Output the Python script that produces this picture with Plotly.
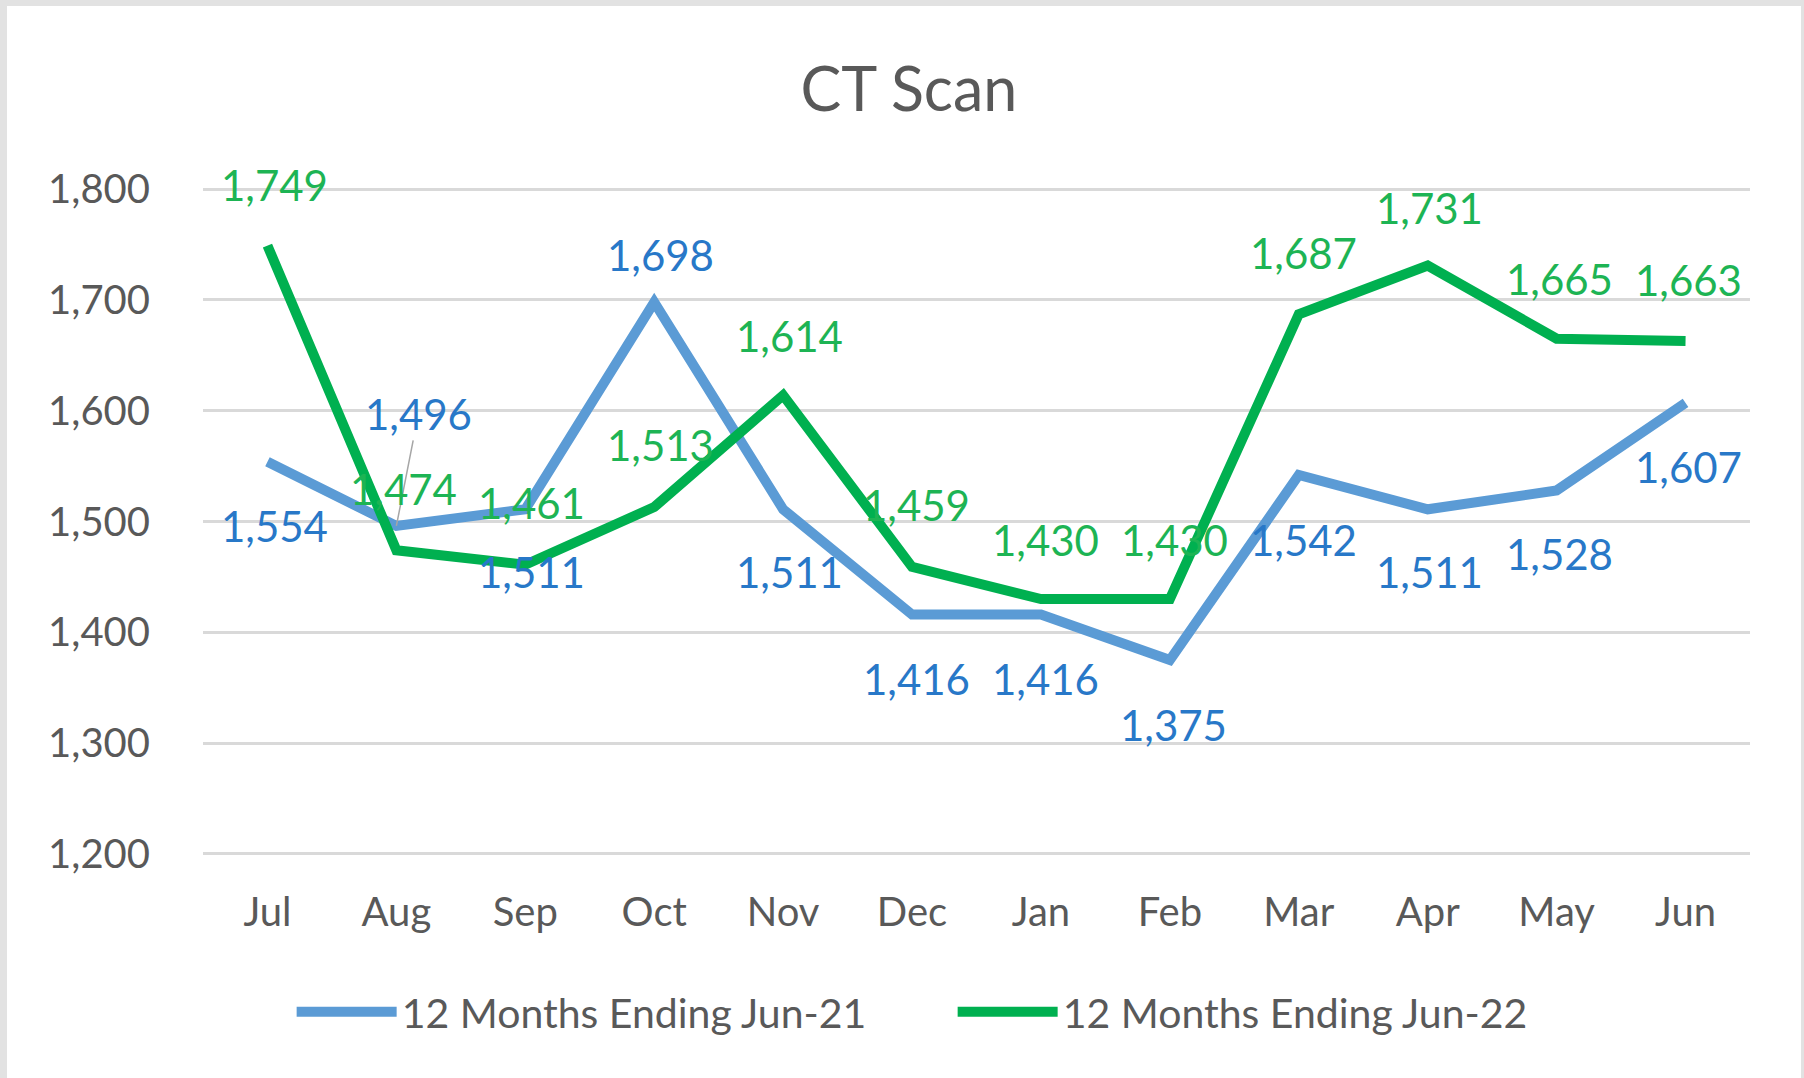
import plotly.graph_objects as go

months = ["Jul", "Aug", "Sep", "Oct", "Nov", "Dec", "Jan", "Feb", "Mar", "Apr", "May", "Jun"]
jun21 = [1554, 1496, 1511, 1698, 1511, 1416, 1416, 1375, 1542, 1511, 1528, 1607]
jun22 = [1749, 1474, 1461, 1513, 1614, 1459, 1430, 1430, 1687, 1731, 1665, 1663]
name21 = "12 Months Ending Jun-21"
name22 = "12 Months Ending Jun-22"
y_ticks = [1200, 1300, 1400, 1500, 1600, 1700, 1800]

# label offsets in pixels (dx, dy where positive dy = down)
off21 = [(7, 64), (22, -112), (6, 63), (6, -47), (6, 63), (4, 64), (5, 64), (4, 65), (5, 65), (2, 63), (3, 64), (3, 64)]
off22 = [(7, -61), (7, -61), (6, -62), (6, -62), (6, -59), (4, -62), (5, -59), (5, -59), (5, -61), (2, -58), (3, -60), (3, -61)]

BLUE = "#5B9BD5"
GREEN = "#00B050"
BLUE_TXT = "#2878C8"
GREEN_TXT = "#1DB454"
GRAY = "#595959"
FONT = "Lato"
LBL = 42

W, H = 1804, 1078
# plot area: 1800 at y=189, 1200 at y=854, x from 203 to 1750
Y0, Y1 = 1199, 1801
px_per = (854 - 189) / 600.0
MT = int(round(189 - (Y1 - 1800) * px_per))
MB = int(round(H - (854 + (1200 - Y0) * px_per)))
ML, MR = 203, 54

fig = go.Figure()
fig.add_trace(go.Scatter(x=months, y=jun21, mode="lines", name=name21,
                         line=dict(color=BLUE, width=10)))
fig.add_trace(go.Scatter(x=months, y=jun22, mode="lines", name=name22,
                         line=dict(color=GREEN, width=10)))

ann = []
for i, (m, v) in enumerate(zip(months, jun21)):
    dx, dy = off21[i]
    if i == 1:
        ann.append(dict(x=m, y=v, xref="x", yref="y", text=f"{v:,}", showarrow=True,
                        ax=dx, ay=dy, arrowhead=0, arrowwidth=1.5, arrowcolor="#A6A6A6",
                        standoff=0, startstandoff=0,
                        font=dict(family=FONT, size=LBL, color=BLUE_TXT)))
    else:
        ann.append(dict(x=m, y=v, xref="x", yref="y", text=f"{v:,}", showarrow=False,
                        xshift=dx, yshift=-dy, xanchor="center", yanchor="middle",
                        font=dict(family=FONT, size=LBL, color=BLUE_TXT)))
for i, (m, v) in enumerate(zip(months, jun22)):
    dx, dy = off22[i]
    ann.append(dict(x=m, y=v, xref="x", yref="y", text=f"{v:,}", showarrow=False,
                    xshift=dx, yshift=-dy, xanchor="center", yanchor="middle",
                    font=dict(family=FONT, size=LBL, color=GREEN_TXT)))

pw = W - ML - MR
ph = H - MT - MB
def px2x(p):
    return (p - ML) / pw
def py2y(p):
    return 1 - (p - MT) / ph

shapes = [
    dict(type="rect", xref="paper", yref="paper", x0=px2x(0), x1=px2x(7), y0=py2y(H), y1=py2y(0),
         fillcolor="#E2E2E2", line=dict(width=0), layer="above"),
    dict(type="rect", xref="paper", yref="paper", x0=px2x(0), x1=px2x(W), y0=py2y(6), y1=py2y(0),
         fillcolor="#E2E2E2", line=dict(width=0), layer="above"),
    dict(type="rect", xref="paper", yref="paper", x0=px2x(W - 3), x1=px2x(W), y0=py2y(H), y1=py2y(0),
         fillcolor="#E2E2E2", line=dict(width=0), layer="above"),
]

fig.update_layout(
    width=W, height=H,
    margin=dict(l=ML, r=MR, t=MT, b=MB, pad=0),
    paper_bgcolor="white", plot_bgcolor="white",
    font=dict(family=FONT, color=GRAY),
    title=dict(text="CT Scan", x=790 * 1.1505 / W, xref="container", xanchor="center",
               y=1 - 90 / H, yref="container", yanchor="middle",
               font=dict(family=FONT, size=61, color=GRAY)),
    xaxis=dict(showgrid=False, zeroline=False, showline=False, ticks="",
               tickfont=dict(family=FONT, size=40, color=GRAY), ticklabelstandoff=30,
               range=[-0.5, 11.5]),
    yaxis=dict(range=[Y0, Y1], tickvals=y_ticks, tickformat=",d",
               showgrid=True, gridcolor="#D9D9D9", gridwidth=3, zeroline=False,
               showline=False, ticks="", ticklabelstandoff=52,
               tickfont=dict(family=FONT, size=40, color=GRAY)),
    showlegend=True,
    legend=dict(orientation="h", xref="container", yref="container",
                x=(795 * 1.1505 + 38) / W, xanchor="center", y=1 - 1012 / H, yanchor="middle",
                font=dict(family=FONT, size=41, color=GRAY), itemwidth=100,
                entrywidth=546, entrywidthmode="pixels",
                bgcolor="rgba(0,0,0,0)"),
    annotations=ann,
    shapes=shapes,
)

fig.write_html("out.html", config={"displayModeBar": False},
               post_script="document.body.style.margin='0px';")
